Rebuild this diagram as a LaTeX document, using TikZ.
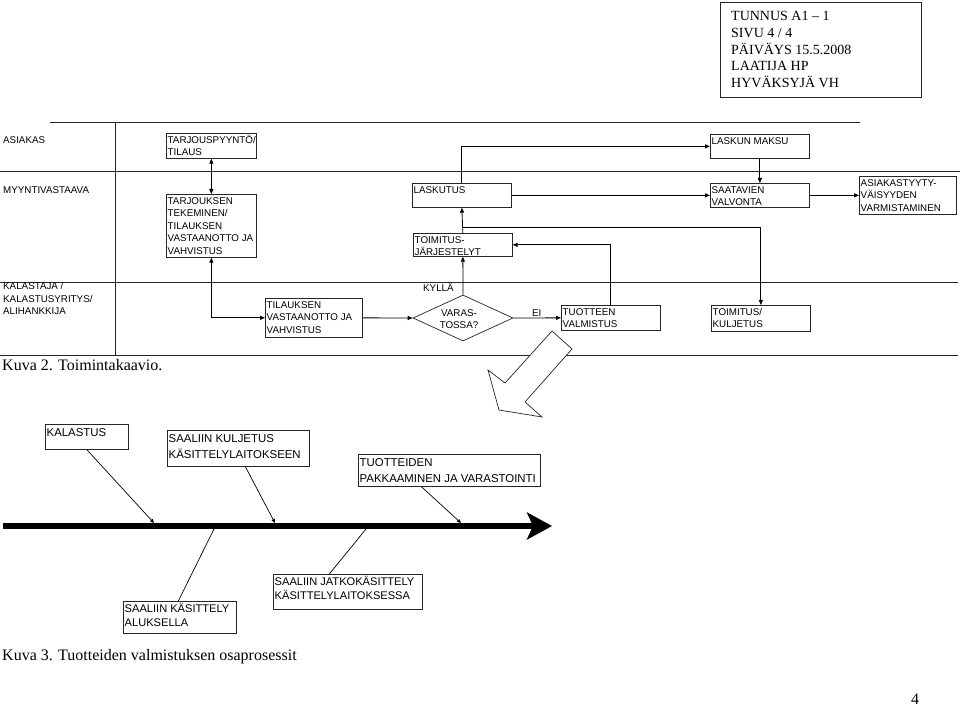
\documentclass[tikz,border=0pt]{standalone}
\usepackage{fontspec}
\setmainfont{Liberation Serif}
\setsansfont{Liberation Sans}
\usetikzlibrary{arrows.meta,shapes.geometric,calc}
\tikzset{
  lane/.style={line width=0.9pt, draw=black!85},
  boxst/.style={draw=black!85, line width=0.7pt, inner sep=0pt, anchor=north west},
  tx/.style={font=\sffamily\fontsize{9.8}{12.5}\selectfont, align=left, inner sep=0pt, anchor=north west},
  ftx/.style={font=\sffamily\fontsize{11.4}{16}\selectfont, align=left, inner sep=0pt, anchor=north west},
  ftxb/.style={font=\sffamily\fontsize{11.1}{14}\selectfont, align=left, inner sep=0pt, anchor=north west},
  conn/.style={line width=0.8pt, -{Triangle[length=5pt,width=4pt]}},
  conntwo/.style={line width=0.8pt, {Triangle[length=5pt,width=4pt]}-{Triangle[length=5pt,width=4pt]}},
  diag/.style={line width=0.7pt, -{Triangle[length=4pt,width=3.5pt]}},
  diagplain/.style={line width=0.7pt},
  serifcap/.style={font=\fontsize{16}{19}\selectfont, inner sep=0pt, anchor=base west},
}
\newcommand\flowbox[7]{% style, name, x, y, w, h, text
  \node[boxst, minimum width=#5pt, minimum height=#6pt] (#2) at (#3,#4) {};
  \node[#1] (#2t) at ([shift={(1.5pt,-1.5pt)}]#2.north west) {\strut #7};}
\begin{document}
\begin{tikzpicture}[x=1pt,y=-1pt]
\useasboundingbox (0,0) rectangle (960,708);
% header
\node[boxst, minimum width=201pt, minimum height=95pt] (hdr) at (720,2) {};
\node[font=\fontsize{14}{16.7}\selectfont, align=left, inner sep=0pt, anchor=north west] (hdrt) at (731,9)
  {\strut TUNNUS A1 – 1\\SIVU 4 / 4\\PÄIVÄYS 15.5.2008\\LAATIJA HP\\HYVÄKSYJÄ VH};
% lanes
\draw[lane] (50,122) -- (860,122);
\draw[lane] (0,171) -- (960,171);
\draw[lane] (0,282) -- (958,282);
\draw[lane] (0,355) -- (958,355);
\draw[lane] (115,122) -- (115,355);
\node[tx] (l1) at (3,135) {\strut ASIAKAS};
\node[tx] (l2) at (3,185) {\strut MYYNTIVASTAAVA};
\node[tx] (l3) at (3,281) {\strut KALASTAJA /\\KALASTUSYRITYS/\\ALIHANKKIJA};
% boxes
\flowbox{tx}{tarj}{166}{133}{90}{25}{TARJOUSPYYNTÖ/\\TILAUS}
\flowbox{tx}{tek}{166}{194}{90}{63}{TARJOUKSEN\\TEKEMINEN/\\TILAUKSEN\\VASTAANOTTO JA\\VAHVISTUS}
\flowbox{tx}{lask}{412}{183}{99}{24}{LASKUTUS}
\flowbox{tx}{toimj}{413}{233}{99}{23}{TOIMITUS-\\JÄRJESTELYT}
\flowbox{tx}{lmaksu}{710}{134}{99}{24}{LASKUN MAKSU}
\flowbox{tx}{saat}{710}{183}{99}{24}{SAATAVIEN\\VALVONTA}
\flowbox{tx}{asty}{859}{176}{97}{38}{ASIAKASTYYTY-\\VÄISYYDEN\\VARMISTAMINEN}
\flowbox{tx}{tilv}{265}{298}{97}{39}{TILAUKSEN\\VASTAANOTTO JA\\VAHVISTUS}
\flowbox{tx}{tuot}{561}{305}{99}{25}{TUOTTEEN\\VALMISTUS}
\flowbox{tx}{tkul}{711}{305}{99}{26}{TOIMITUS/\\KULJETUS}
\node[diamond, draw=black!85, line width=0.7pt, minimum width=100pt, minimum height=46pt, inner sep=0pt] (dia) at (463,318) {};
\node[tx, anchor=center, align=center, font=\sffamily\fontsize{9.8}{12}\selectfont] (diat) at (459,319) {VARAS-\\TOSSA?};
\node[tx, anchor=base west] (kyl) at (423,291.5) {KYLLÄ};
\node[tx, anchor=base west] (ei) at (532,316.5) {EI};
% connectors
\draw[conntwo] (tarj.south) -- (tek.north);
\draw[conntwo] (tek.south) |- (tilv.west);
\draw[conn] (tilv.east) -- (dia.west);
\draw[conn] (dia.north) -- (toimj.south);
\draw[conn] (dia.east) -- (tuot.west);
\draw[conn] (tuot.north) |- (toimj.east);
\draw[conn] (toimj.north) -- (lask.south);
\coordinate (br) at (462.5,227);
\draw[conn] (br) -| (tkul.north);
\draw[conn] (lask.north) |- (lmaksu.west);
\draw[conn] (lask.east) -- (saat.west);
\draw[conn] (lmaksu.south) -- (saat.north);
\draw[conn] (saat.east) -- (asty.west);
% big hollow arrow
\draw[line width=0.7pt, draw=black!85, fill=white] (552,331) -- (505,383) -- (488,370) -- (499,410) -- (542,417) -- (525,402) -- (572,349) -- cycle;
\node[serifcap] (cap2) at (2,370) {Kuva 2. Toimintakaavio.};
% fishbone
\coordinate (ms) at (3,526);
\coordinate (me) at (552,526);
\draw[line width=6pt, -{Stealth[length=25pt,width=27pt,inset=6pt]}] (ms) -- (me);
\flowbox{ftx}{kal}{45}{424}{83}{25}{KALASTUS}
\flowbox{ftx}{kulj}{167}{430}{142}{36}{SAALIIN KULJETUS\\KÄSITTELYLAITOKSEEN}
\flowbox{ftx}{tuotp}{358}{454}{182}{32}{TUOTTEIDEN\\PAKKAAMINEN JA VARASTOINTI}
\flowbox{ftxb}{aluk}{123}{601}{113}{32}{SAALIIN KÄSITTELY\\ALUKSELLA}
\flowbox{ftxb}{jatko}{273}{574}{149}{35}{SAALIIN JATKOKÄSITTELY\\KÄSITTELYLAITOKSESSA}
\coordinate (u1) at (154,523);
\coordinate (u2) at (275,523);
\coordinate (u3) at (461,523);
\coordinate (d1) at (214,529);
\coordinate (d2) at (366,529);
\draw[diag] (kal.south) -- (u1);
\draw[diag] ([xshift=7pt]kulj.south) -- (u2);
\draw[diag] ([xshift=-28pt]tuotp.south) -- (u3);
\draw[diagplain] ([xshift=-1.5pt]aluk.north) -- (d1);
\draw[diagplain] ([xshift=-18.5pt]jatko.north) -- (d2);
\node[serifcap] (cap3) at (2,660) {Kuva 3. Tuotteiden valmistuksen osaprosessit};
\node[serifcap] (pg) at (911,704) {4};
\end{tikzpicture}
\end{document}
